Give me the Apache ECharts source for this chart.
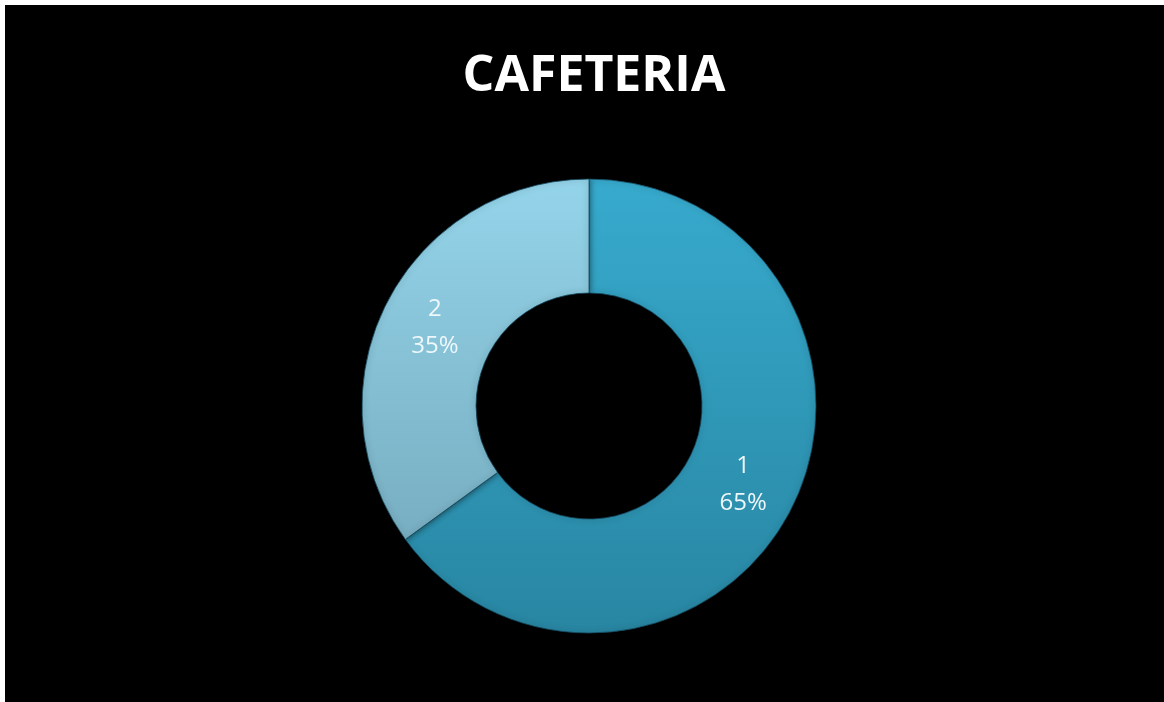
<!DOCTYPE html>
<html>
<head>
<meta charset="utf-8">
<script src="https://cdn.jsdelivr.net/npm/echarts@6/dist/echarts.min.js"></script>
<style>
html,body{margin:0;padding:0;background:#ffffff;width:1164px;height:702px;overflow:hidden;}
#chart{position:absolute;left:5px;top:5px;right:0;bottom:0;width:1159px;height:697px;background:#000;}
</style>
</head>
<body>
<div id="chart"></div>
<script>
const titleText = 'CAFETERIA';
const categories = ['1', '2'];
const values = [65, 35];

const palette = [
  new echarts.graphic.LinearGradient(0, 0, 0, 1, [
    {offset: 0, color: '#37aacd'},
    {offset: 1, color: '#2886a2'}
  ]),
  new echarts.graphic.LinearGradient(0, 0, 0, 1, [
    {offset: 0, color: '#94d4ea'},
    {offset: 1, color: '#78aec1'}
  ])
];

const chart = echarts.init(document.getElementById('chart'));
chart.setOption({
  backgroundColor: '#000000',
  animation: false,
  title: {
    text: titleText,
    left: 584,
    textAlign: 'center',
    top: 42,
    textStyle: {
      color: '#ffffff',
      fontSize: 50,
      fontWeight: 'bold',
      fontFamily: '"Open Sans", "Noto Sans", sans-serif'
    }
  },
  series: [{
    type: 'pie',
    center: [584, 401],
    radius: [113, 227],
    startAngle: 90,
    clockwise: true,
    avoidLabelOverlap: false,
    data: categories.map((c, i) => ({
      name: c,
      value: values[i],
      itemStyle: {color: palette[i]}
    })),
    itemStyle: {
      borderColor: 'rgba(20,70,90,0.8)',
      borderWidth: 1,
      shadowBlur: 6,
      shadowColor: 'rgba(0,0,0,0.5)'
    },
    label: {
      show: true,
      position: 'inside',
      formatter: p => p.name + '\n' + Math.round(p.percent) + '%',
      color: '#eef7fa',
      fontSize: 24,
      lineHeight: 37,
      fontFamily: '"Open Sans", "Noto Sans", sans-serif'
    },
    labelLine: {show: false},
    emphasis: {disabled: true}
  }]
});
</script>
</body>
</html>
